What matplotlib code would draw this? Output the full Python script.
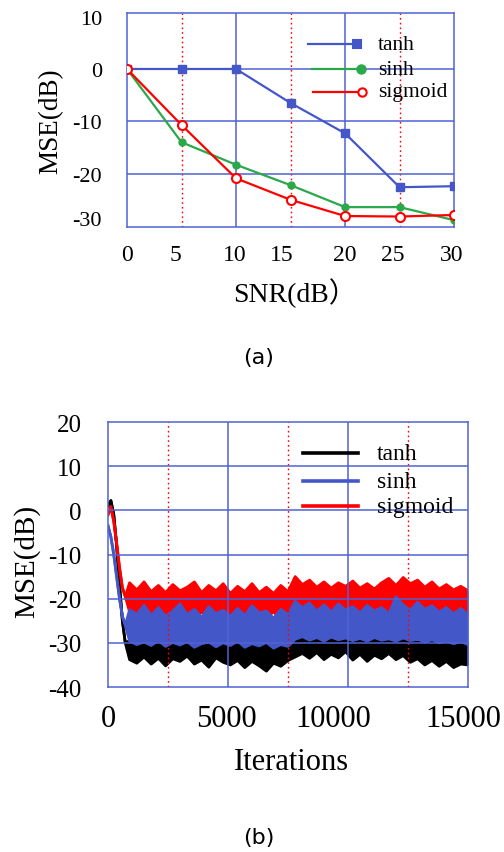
import numpy as np
import matplotlib
matplotlib.use("Agg")
import matplotlib.pyplot as plt

# (a) MSE vs SNR for three activation functions
snr = [0, 5, 10, 15, 20, 25, 30]
mse_tanh = [0, 0, 0, -6.5, -12.3, -22.6, -22.4]
mse_sinh = [0, -14.0, -18.3, -22.2, -26.4, -26.4, -28.9]
mse_sigmoid = [0, -10.7, -20.9, -25.0, -28.1, -28.2, -27.9]

# (b) learning curves: start-up part, then the upper / lower edge of the
# noisy band read every 300 iterations
iters = [0, 120, 240, 360, 480, 600, 720] + list(range(900, 15001, 300))

tanh_hi = [1.0, 2.2, -1.0, -8.0, -17.0, -25.0, -30.0,
           -29.5, -30.0, -29.0, -30.0, -29.5, -30.0, -29.2, -30.0, -29.5, -30.2,
           -29.6, -30.0, -29.3, -29.8, -30.0, -29.4, -30.2, -29.6, -30.0, -29.5,
           -30.2, -29.5, -30.0, -28.6, -28.4, -29.0, -28.5, -29.2, -28.6, -29.0,
           -28.4, -29.4, -28.8, -29.5, -29.0, -28.5, -28.8, -29.2, -28.6, -29.4,
           -29.8, -30.0, -29.5, -30.2, -29.6, -30.0, -29.8, -30.0]
tanh_lo = [1.0, 2.2, -1.0, -8.0, -17.0, -25.0, -30.0,
           -33.8, -34.6, -33.2, -34.8, -33.5, -35.2, -33.6, -34.2, -33.0, -34.8,
           -33.9, -35.5, -33.4, -34.4, -35.0, -34.0, -35.6, -34.2, -35.2, -36.4,
           -34.6, -35.3, -34.0, -33.2, -32.4, -33.5, -32.2, -33.8, -32.6, -33.4,
           -32.0, -33.9, -32.6, -34.2, -32.8, -33.6, -32.4, -33.8, -32.9, -34.4,
           -33.6, -35.0, -34.0, -35.3, -34.2, -35.6, -34.8, -35.0]

sinh_hi = [-3.5, -6.0, -10.0, -15.0, -20.0, -24.0, -26.0,
           -22.5, -23.5, -21.5, -23.8, -22.0, -24.0, -22.8, -21.2, -23.6, -22.4,
           -24.2, -21.8, -23.4, -22.6, -24.0, -22.2, -23.8, -21.6, -23.2, -22.8,
           -24.4, -22.4, -23.6, -20.6, -22.0, -21.0, -22.8, -21.4, -23.0, -21.2,
           -22.6, -21.8, -23.2, -21.5, -22.8, -22.0, -23.4, -19.6, -21.4, -22.6,
           -20.8, -22.4, -21.6, -23.0, -22.0, -23.4, -22.2, -23.6]
sinh_lo = [-3.5, -6.0, -10.0, -15.0, -20.0, -24.0, -26.0,
           -29.6, -30.4, -29.8, -30.6, -29.5, -30.8, -29.9, -30.5, -29.7, -31.0,
           -30.2, -29.8, -30.9, -30.0, -30.6, -29.6, -31.0, -30.2, -30.7, -29.9,
           -31.2, -30.4, -30.8, -29.2, -28.6, -29.4, -28.8, -29.6, -28.7, -29.3,
           -28.9, -29.5, -29.0, -29.6, -28.8, -29.4, -29.1, -29.6, -28.9, -29.5,
           -29.2, -29.8, -29.3, -30.0, -29.6, -30.2, -29.7, -30.4]

sigmoid_hi = [-1.0, 0.8, -2.5, -7.5, -13.0, -17.5, -19.5,
              -16.4, -18.0, -16.2, -18.4, -17.0, -18.6, -16.8, -18.2, -17.4, -16.2,
              -18.6, -17.0, -18.2, -16.6, -18.8, -17.2, -18.4, -16.6, -18.6, -17.4,
              -18.8, -17.0, -18.4, -15.0, -16.8, -15.8, -17.4, -16.2, -17.6, -16.4,
              -17.2, -16.0, -17.6, -16.6, -17.8, -16.4, -15.4, -17.0, -15.2, -16.6,
              -15.8, -17.4, -16.2, -17.8, -16.8, -18.0, -17.2, -18.2]
sigmoid_lo = [-1.0, 0.8, -2.5, -7.5, -13.0, -17.5, -19.5,
              -23.0, -24.2, -22.6, -24.0, -23.2, -24.5, -22.8, -24.0, -23.4, -24.6,
              -23.0, -24.2, -23.6, -24.8, -23.2, -24.0, -23.4, -24.6, -23.6, -24.2,
              -23.0, -24.8, -25.0, -22.8, -23.4, -22.4, -23.8, -22.6, -23.6, -22.8,
              -24.0, -23.0, -23.8, -22.6, -23.6, -22.8, -23.4, -22.6, -23.2, -22.8,
              -23.6, -23.0, -23.8, -23.2, -24.0, -23.4, -24.2, -23.6]

serif = ["Liberation Serif", "Noto Sans CJK SC"]
gridblue = "#5062D4"
c_blue = "#4457C9"
c_green = "#2AA84A"
c_red = "#FF0000"

fig = plt.figure(figsize=(5.04, 8.53), dpi=100)

#-----------------------------------------------------------------------------
# (a)
ax1 = fig.add_axes([0.252, 0.7327, 0.649, 0.2509])

for x in [10, 20]:
    ax1.axvline(x, color=gridblue, lw=1.1, zorder=1)
for x in [5, 15, 25]:
    ax1.axvline(x, color=c_red, lw=1.0, ls=(0, (1.2, 2.2)), zorder=1)
for y in [0, -10, -20]:
    ax1.axhline(y, color=gridblue, lw=1.1, zorder=1)

ax1.plot(snr, mse_tanh, color=c_blue, lw=1.6, marker="s", ms=6, zorder=3)
ax1.plot(snr, mse_sinh, color=c_green, lw=1.6, marker="o", ms=5, zorder=3)
ax1.plot(snr, mse_sigmoid, color=c_red, lw=1.6, marker="o", ms=6.5,
         mfc="white", mew=1.5, zorder=4)

ax1.set_xlim(0, 30)
ax1.set_ylim(-30.2, 10.7)
ax1.set_xticks([0, 4.4, 9.9, 14.2, 20, 24.4, 29.8])
ax1.set_xticklabels(["0", "5", "10", "15", "20", "25", "30"],
                    family=serif, fontsize=17)
ax1.set_yticks([10, 0, -10, -20, -28.5])
ax1.set_yticklabels(["10", "0", "-10", "-20", "-30"], family=serif, fontsize=16)
ax1.tick_params(axis="x", length=0, pad=12)
ax1.tick_params(axis="y", length=0, pad=18)
for sp in ax1.spines.values():
    sp.set_color(gridblue)
    sp.set_linewidth(1.1)

# legend, markers sit at the right end of the sample line
leg1 = [("tanh", c_blue, "s", c_blue, 0.855, 0.554),
        ("sinh", c_green, "o", c_green, 0.738, 0.566),
        ("sigmoid", c_red, "o", "white", 0.631, 0.569)]
for name, col, mk, fc, yy, x0 in leg1:
    ax1.plot([x0, x0 + 0.15], [yy, yy], color=col, lw=1.6,
             transform=ax1.transAxes, zorder=5)
    ax1.plot([x0 + 0.15], [yy], color=col, marker=mk, mfc=fc, mew=1.5,
             ms=6, transform=ax1.transAxes, zorder=5)
    ax1.text(0.768, yy, name, family=serif, fontsize=15.5, va="center",
             ha="left", transform=ax1.transAxes, zorder=6)

fig.text(0.101, 0.858, "MSE(dB)", family=serif, fontsize=19.5, rotation=90,
         ha="center", va="center")
fig.text(0.585, 0.656, "SNR(dB）", family=serif, fontsize=20,
         ha="center", va="center")
fig.text(0.514, 0.580, "(a)", family="DejaVu Sans", fontsize=16,
         ha="center", va="center")

#-----------------------------------------------------------------------------
# (b)
ax2 = fig.add_axes([0.2143, 0.1934, 0.7143, 0.3107])

bands = [(tanh_hi, tanh_lo, "black", 2.0),
         (sigmoid_hi, sigmoid_lo, c_red, 2.1),
         (sinh_hi, sinh_lo, c_blue, 2.2)]
for hi, lo, col, z in bands:
    ax2.fill_between(iters, lo, hi, color=col, lw=0, zorder=z)
    ax2.plot(iters, hi, color=col, lw=2.0, zorder=z)
    ax2.plot(iters, lo, color=col, lw=2.0, zorder=z)

for x in [5000, 10000]:
    ax2.axvline(x, color=gridblue, lw=1.1, zorder=3)
for x in [2500, 7500, 12500]:
    ax2.axvline(x, color=c_red, lw=1.0, ls=(0, (1.2, 2.2)), zorder=3)
for y in [10, 0, -10, -20, -30]:
    ax2.axhline(y, color=gridblue, lw=1.1, zorder=3)

ax2.set_xlim(0, 15000)
ax2.set_ylim(-40, 20)
ax2.set_xticks([0, 4950, 9400, 14800])
ax2.set_xticklabels(["0", "5000", "10000", "15000"], family=serif, fontsize=22)
ax2.set_yticks([20, 10, 0, -10, -20, -30, -40])
ax2.set_yticklabels(["20", "10", "0", "-10", "-20", "-30", "-40"],
                    family=serif, fontsize=18)
ax2.tick_params(axis="x", length=0, pad=12)
ax2.tick_params(axis="y", length=0, pad=19)
for sp in ax2.spines.values():
    sp.set_color(gridblue)
    sp.set_linewidth(1.1)

leg2 = [("tanh", "black", 0.883), ("sinh", c_blue, 0.777),
        ("sigmoid", c_red, 0.683)]
for name, col, yy in leg2:
    ax2.plot([0.542, 0.694], [yy, yy], color=col, lw=2.6,
             transform=ax2.transAxes, zorder=5)
    ax2.text(0.747, yy, name, family=serif, fontsize=17, va="center",
             ha="left", transform=ax2.transAxes, zorder=6)

fig.text(0.054, 0.342, "MSE(dB)", family=serif, fontsize=21, rotation=90,
         ha="center", va="center")
fig.text(0.579, 0.106, "Iterations", family=serif, fontsize=22,
         ha="center", va="center")
fig.text(0.514, 0.018, "(b)", family="DejaVu Sans", fontsize=16,
         ha="center", va="center")

fig.savefig("out.png", dpi=100)
